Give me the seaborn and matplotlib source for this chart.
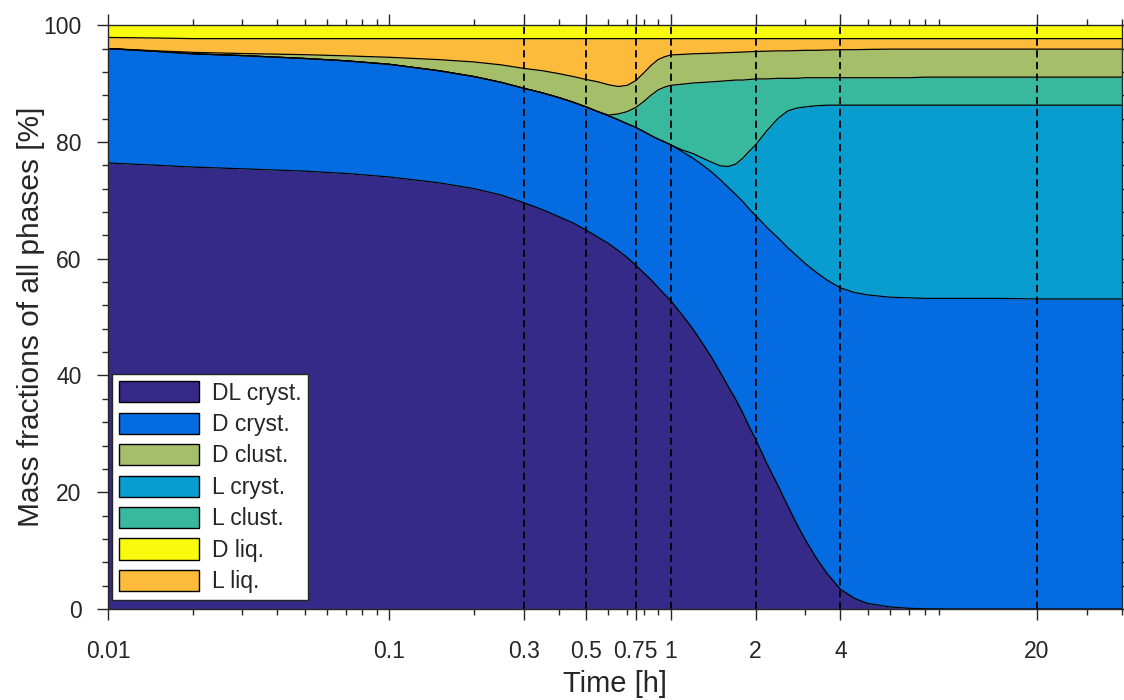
import numpy as np
import pandas as pd
import matplotlib
matplotlib.use('Agg')
import matplotlib.pyplot as plt
import matplotlib.ticker as mticker
from matplotlib.patches import Patch
import seaborn as sns

# Zeitpunkte [h]
time_h = [0.01, 0.015, 0.02, 0.03, 0.05, 0.07, 0.1, 0.15, 0.2, 0.25, 0.3, 0.35, 0.4, 0.45,
          0.5, 0.55, 0.6, 0.65, 0.7, 0.75, 0.8, 0.85, 0.9, 0.95, 1.0, 1.1, 1.2, 1.3, 1.4,
          1.5, 1.6, 1.7, 1.8, 1.9, 2.0, 2.2, 2.4, 2.6, 2.8, 3.0, 3.3, 3.6, 4.0, 4.5, 5.0,
          6.0, 7.0, 8.0, 10.0, 15.0, 20.0, 30.0, 40.0]

# kumulierte Massenanteile [%]: Oberkante jeder Phase (von unten gestapelt)
top_dl_cryst = [76.4, 76.0, 75.7, 75.4, 75.0, 74.6, 74.0, 73.0, 72.0, 70.9, 69.6, 68.4, 67.2, 66.1,
                64.9, 63.7, 62.6, 61.4, 60.2, 58.9, 57.6, 56.4, 55.1, 53.9, 52.8, 50.3, 47.9, 45.4, 43.0,
                40.5, 38.1, 35.9, 33.6, 31.2, 29.1, 24.8, 21.2, 17.7, 14.6, 11.9, 8.6, 6.0, 3.4, 1.8, 0.95,
                0.35, 0.12, 0.04, 0.0, 0.0, 0.0, 0.0, 0.0]
top_d_cryst = [96.0, 95.5, 95.1, 94.8, 94.3, 93.9, 93.3, 92.2, 91.2, 90.2, 89.2, 88.4, 87.6, 86.8,
               86.0, 85.2, 84.5, 83.8, 83.1, 82.5, 81.8, 81.1, 80.5, 80.0, 79.5, 78.3, 77.2, 76.0, 74.8,
               73.5, 72.2, 71.0, 69.8, 68.5, 67.4, 65.3, 63.6, 61.9, 60.5, 59.2, 57.6, 56.3, 55.0, 54.2, 53.8,
               53.4, 53.3, 53.2, 53.2, 53.2, 53.1, 53.1, 53.1]
top_l_cryst = [96.0, 95.5, 95.1, 94.8, 94.3, 93.9, 93.3, 92.2, 91.2, 90.2, 89.2, 88.4, 87.6, 86.8,
               86.0, 85.2, 84.5, 83.8, 83.1, 82.5, 81.8, 81.1, 80.5, 80.0, 79.5, 78.6, 78.0, 77.2, 76.5,
               75.9, 75.8, 76.2, 77.2, 78.4, 79.5, 82.0, 84.0, 85.3, 85.8, 86.0, 86.2, 86.3, 86.3, 86.3, 86.3,
               86.3, 86.3, 86.3, 86.3, 86.3, 86.3, 86.3, 86.3]
top_l_clust = [96.0, 95.5, 95.1, 94.8, 94.3, 93.9, 93.3, 92.2, 91.2, 90.2, 89.2, 88.4, 87.6, 86.8,
               86.0, 85.2, 84.6, 84.8, 85.2, 85.9, 86.9, 88.0, 88.9, 89.4, 89.7, 89.9, 90.1, 90.2, 90.3,
               90.4, 90.5, 90.6, 90.6, 90.7, 90.8, 90.8, 90.9, 90.9, 90.9, 91.0, 91.0, 91.0, 91.0, 91.0, 91.0,
               91.0, 91.0, 91.1, 91.1, 91.1, 91.1, 91.1, 91.1]
top_d_clust = [96.0, 95.6, 95.35, 95.15, 94.95, 94.75, 94.5, 94.1, 93.7, 93.2, 92.6, 92.2, 91.7, 91.2,
               90.7, 90.3, 89.8, 89.5, 89.7, 90.5, 91.8, 93.1, 94.1, 94.6, 94.9, 95.0, 95.1, 95.15, 95.2,
               95.25, 95.3, 95.35, 95.4, 95.45, 95.5, 95.55, 95.6, 95.6, 95.65, 95.7, 95.7, 95.75, 95.8, 95.8, 95.85,
               95.9, 95.9, 95.9, 95.9, 95.9, 95.9, 95.9, 95.9]
top_l_liq = [97.9, 97.8] + [97.7] * 51
top_d_liq = [100.0] * 53

names = ['DL cryst.', 'D cryst.', 'L cryst.', 'L clust.', 'D clust.', 'L liq.', 'D liq.']
tops = [top_dl_cryst, top_d_cryst, top_l_cryst, top_l_clust, top_d_clust, top_l_liq, top_d_liq]
colors = {'DL cryst.': '#352a87', 'D cryst.': '#046ce0', 'L cryst.': '#089ccf',
          'L clust.': '#38b99e', 'D clust.': '#a5be6a', 'L liq.': '#fdbb3b',
          'D liq.': '#f9fb0e'}
legend_order = ['DL cryst.', 'D cryst.', 'D clust.', 'L cryst.', 'L clust.', 'D liq.', 'L liq.']

vlines = [0.3, 0.5, 0.75, 1, 2, 4, 20]
xticks = [0.01, 0.1, 0.3, 0.5, 0.75, 1, 2, 4, 20]
xticklabels = ['0.01', '0.1', '0.3', '0.5', '0.75', '1', '2', '4', '20']

sns.set_theme(style='ticks')
plt.rcParams['font.family'] = ['Liberation Sans', 'DejaVu Sans']

fig, ax = plt.subplots(figsize=(11.24, 7), dpi=100)
fig.subplots_adjust(left=0.0961, right=0.998, bottom=0.13, top=0.964)

# Flaechen zwischen den Phasengrenzen
lower = [0.0] * len(time_h)
for name, top in zip(names, tops):
    ax.fill_between(time_h, lower, top, color=colors[name], linewidth=0)
    lower = top

# Grenzlinien (schwarz)
df_lines = pd.DataFrame({
    't': np.tile(time_h, len(names) - 1),
    'frac': np.concatenate(tops[:-1]),
    'grenze': np.repeat(names[:-1], len(time_h)),
})
sns.lineplot(data=df_lines, x='t', y='frac', units='grenze', estimator=None,
             color='black', linewidth=0.9, ax=ax, legend=False)

for v in vlines:
    ax.axvline(v, color='black', linewidth=1.3, linestyle=(0, (4, 2.5)))

ax.set_xscale('log')
ax.set_xlim(0.01, 40)
ax.set_ylim(0, 100)

ax.xaxis.set_major_locator(mticker.FixedLocator(xticks))
ax.xaxis.set_major_formatter(mticker.FixedFormatter(xticklabels))
minor = [m * 10.0 ** e for e in range(-2, 2) for m in range(2, 10)]
minor = [m for m in minor if m <= 40 and not any(abs(m - x) < 1e-9 for x in xticks)]
ax.xaxis.set_minor_locator(mticker.FixedLocator(minor))
ax.yaxis.set_major_locator(mticker.MultipleLocator(20))
ax.yaxis.set_minor_locator(mticker.MultipleLocator(4))

ax.tick_params(which='both', direction='out', top=True, right=True,
               colors='#262626', labelcolor='#262626', width=1)
ax.tick_params(which='major', length=8)
ax.tick_params(which='minor', length=4)
ax.tick_params(axis='x', labelsize=16.5, pad=14)
ax.tick_params(axis='y', labelsize=16.5, pad=11)
for s in ax.spines.values():
    s.set_visible(True)
    s.set_color('#262626')
    s.set_linewidth(1)

ax.set_xlabel('Time [h]', fontsize=21, color='#262626', labelpad=5)
ax.set_ylabel('Mass fractions of all phases [%]', fontsize=21.5, color='#262626', labelpad=-1)

handles = [Patch(facecolor=colors[n], edgecolor='black', linewidth=1, label=n)
           for n in legend_order]
leg = ax.legend(handles=handles, loc='lower left', bbox_to_anchor=(0.004, 0.015),
                fontsize=16.5, frameon=True, fancybox=False, framealpha=1,
                edgecolor='#262626', handlelength=3.5, handleheight=1.05,
                labelspacing=0.35, handletextpad=0.55, borderpad=0.3,
                borderaxespad=0)
leg.get_frame().set_linewidth(1)

plt.savefig('out.png', dpi=100)
